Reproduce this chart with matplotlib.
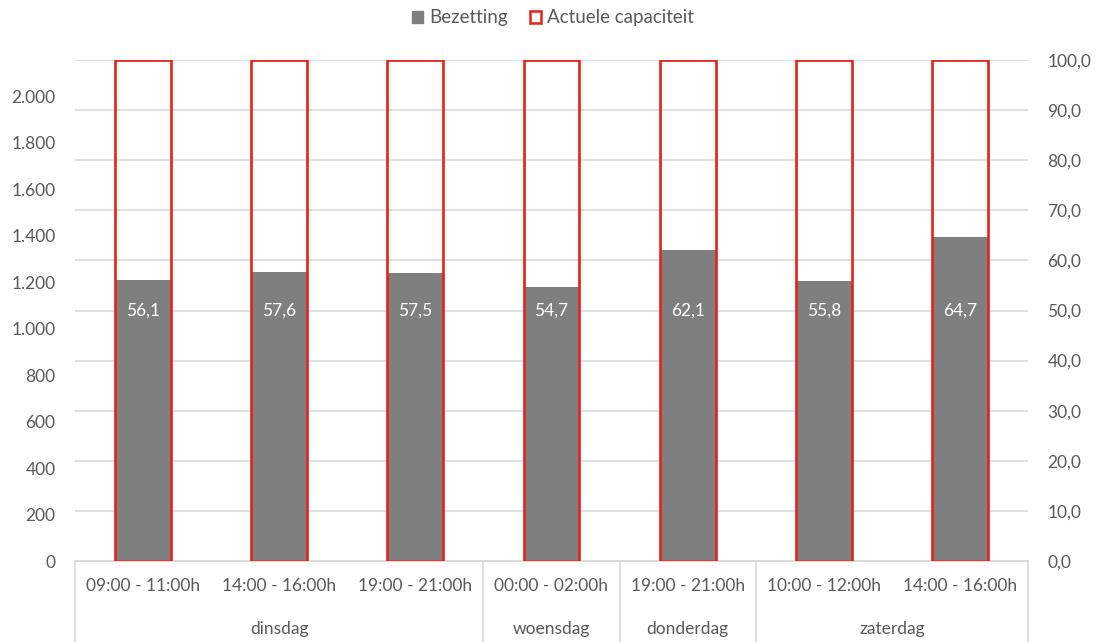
import matplotlib.pyplot as plt
from matplotlib.patches import Patch
from matplotlib.ticker import FuncFormatter, MultipleLocator

plt.rcParams['font.family'] = ['Lato', 'DejaVu Sans']

# data
slots = ['09:00 - 11:00h', '14:00 - 16:00h', '19:00 - 21:00h', '00:00 - 02:00h',
         '19:00 - 21:00h', '10:00 - 12:00h', '14:00 - 16:00h']
days = ['dinsdag', 'woensdag', 'donderdag', 'zaterdag']
day_sizes = [3, 1, 1, 2]
bezetting = [56.1, 57.6, 57.5, 54.7, 62.1, 55.8, 64.7]
capaciteit = [100, 100, 100, 100, 100, 100, 100]

grey_txt = '#595959'
grid_col = '#D9D9D9'
red = '#E32219'
bar_grey = '#7F7F7F'

fig = plt.figure(figsize=(11.06, 6.42), dpi=100)
ax = fig.add_axes([75 / 1106, 81 / 642, 953 / 1106, 501 / 642])
ax2 = ax.twinx()

x = list(range(len(slots)))
w = 0.41

ax2.bar(x, bezetting, width=w, color=bar_grey, zorder=2)
ax2.bar(x, capaciteit, width=w, fill=False, edgecolor=red, linewidth=1.9, zorder=3)
for xi, v in zip(x, bezetting):
    ax2.text(xi, 50, f'{v:.1f}'.replace('.', ','), ha='center', va='center',
             color='white', fontsize=12.5, zorder=4)

ax.set_xlim(-0.5, len(slots) - 0.5)
ax2.set_xlim(-0.5, len(slots) - 0.5)
ax.set_ylim(0, 2155)
ax2.set_ylim(0, 100)
ax.yaxis.set_major_locator(MultipleLocator(200))
ax2.yaxis.set_major_locator(MultipleLocator(10))
ax.yaxis.set_major_formatter(FuncFormatter(lambda v, p: f'{int(v):,}'.replace(',', '.')))
ax2.yaxis.set_major_formatter(FuncFormatter(lambda v, p: f'{v:.1f}'.replace('.', ',')))
ax2.grid(axis='y', color=grid_col, linewidth=1.2, zorder=0)
ax2.set_axisbelow(True)

for a in (ax, ax2):
    for s in ['top', 'left', 'right']:
        a.spines[s].set_visible(False)
    a.spines['bottom'].set_color(grid_col)
    a.spines['bottom'].set_linewidth(1.2)
    a.tick_params(axis='y', length=0, labelsize=12.5, labelcolor=grey_txt, pad=14)
    a.set_xticks([])

# multi level category axis
for xi, s in zip(x, slots):
    ax.text(xi, -0.05, s, transform=ax.get_xaxis_transform(), ha='center', va='center',
            fontsize=12.5, color=grey_txt)
start = 0
bounds = [-0.5]
for d, n in zip(days, day_sizes):
    ax.text(start + (n - 1) / 2, -0.135, d, transform=ax.get_xaxis_transform(),
            ha='center', va='center', fontsize=12.5, color=grey_txt)
    start += n
    bounds.append(start - 0.5)
for b in bounds:
    ax.plot([b, b], [0, -0.17], transform=ax.get_xaxis_transform(), color=grid_col,
            linewidth=1.2, clip_on=False)

handles = [Patch(facecolor=bar_grey, edgecolor=bar_grey, label='Bezetting'),
           Patch(facecolor='white', edgecolor=red, linewidth=1.8, label='Actuele capaciteit')]
fig.legend(handles=handles, loc='upper center', bbox_to_anchor=(0.5, 1.012), ncol=2,
           frameon=False, handlelength=0.6, handleheight=0.6, handletextpad=0.3,
           columnspacing=1.2, labelcolor=grey_txt, fontsize=13.5)

fig.savefig('out.png', dpi=100)
